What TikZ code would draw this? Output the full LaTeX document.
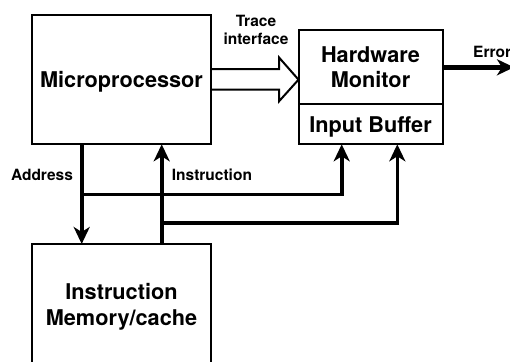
\documentclass[tikz,border=0pt]{standalone}
\usepackage{fontspec}
\setmainfont{TeX Gyre Heros}
\usetikzlibrary{arrows.meta}
\begin{document}
\begin{tikzpicture}[x=1pt,y=-1pt,
  box/.style={draw,line width=2pt,inner sep=0pt,outer sep=0pt,font=\bfseries\fontsize{21.7}{25.6}\selectfont,align=center},
  lbl/.style={inner sep=0pt,font=\bfseries\fontsize{15.5}{18.3}\selectfont,align=center},
  conn/.style={line width=3.6pt},
  tip/.style={-{Stealth[length=17pt,width=16pt,inset=5pt]}},
  hollow/.style={line width=2pt,line join=miter}]
\useasboundingbox (0,0) rectangle (510,361);
\node[box,minimum width=179pt,minimum height=129.3pt,text depth=0pt] (mp) at (121.5,79.65) {Microprocessor};
\node[box,minimum width=179pt,minimum height=126pt] (mem) at (121.5,307) {Instruction\\Memory/cache};
\node[box,minimum width=144pt,minimum height=74pt] (hw) at (370.5,67.3) {Hardware\\Monitor};
\node[box,minimum width=144pt,minimum height=40pt,text depth=0pt,anchor=north] (buf) at (hw.south) {Input Buffer};
\node[lbl,anchor=base] (addr) at (42,180.7) {Address};
\node[lbl,anchor=base west] (instr) at (171.7,180.7) {Instruction};
\node[lbl] (trace) at (256,29.6) {Trace\\interface};
\node[lbl,anchor=base west] (err) at (473,57.3) {Error};
\coordinate (ax) at (81.7,0);
\coordinate (ix) at (161.7,0);
\coordinate (b1) at (341.7,0);
\coordinate (b2) at (397.3,0);
\coordinate (j1) at (81.7,194.3);
\coordinate (j2) at (161.7,223);
\coordinate (errend) at (514,67.3);
\draw[conn,tip] (ax |- mp.south) -- (ax |- mem.north);
\draw[conn,tip] (ix |- mem.north) -- (ix |- mp.south);
\draw[conn,tip] (j1) -| (b1 |- buf.south);
\draw[conn,tip] (j2) -| (b2 |- buf.south);
\draw[line width=5pt,tip] (hw.east) -- (errend);
\draw[hollow] (mp.east) ++(0,-10.5) -- ++(68,0) -- ++(0,-11.7) -- (hw.west |- mp.east) -- ++(-19.5,21.7) -- ++(0,-11.7) -- ++(-68,0);
\end{tikzpicture}
\end{document}
